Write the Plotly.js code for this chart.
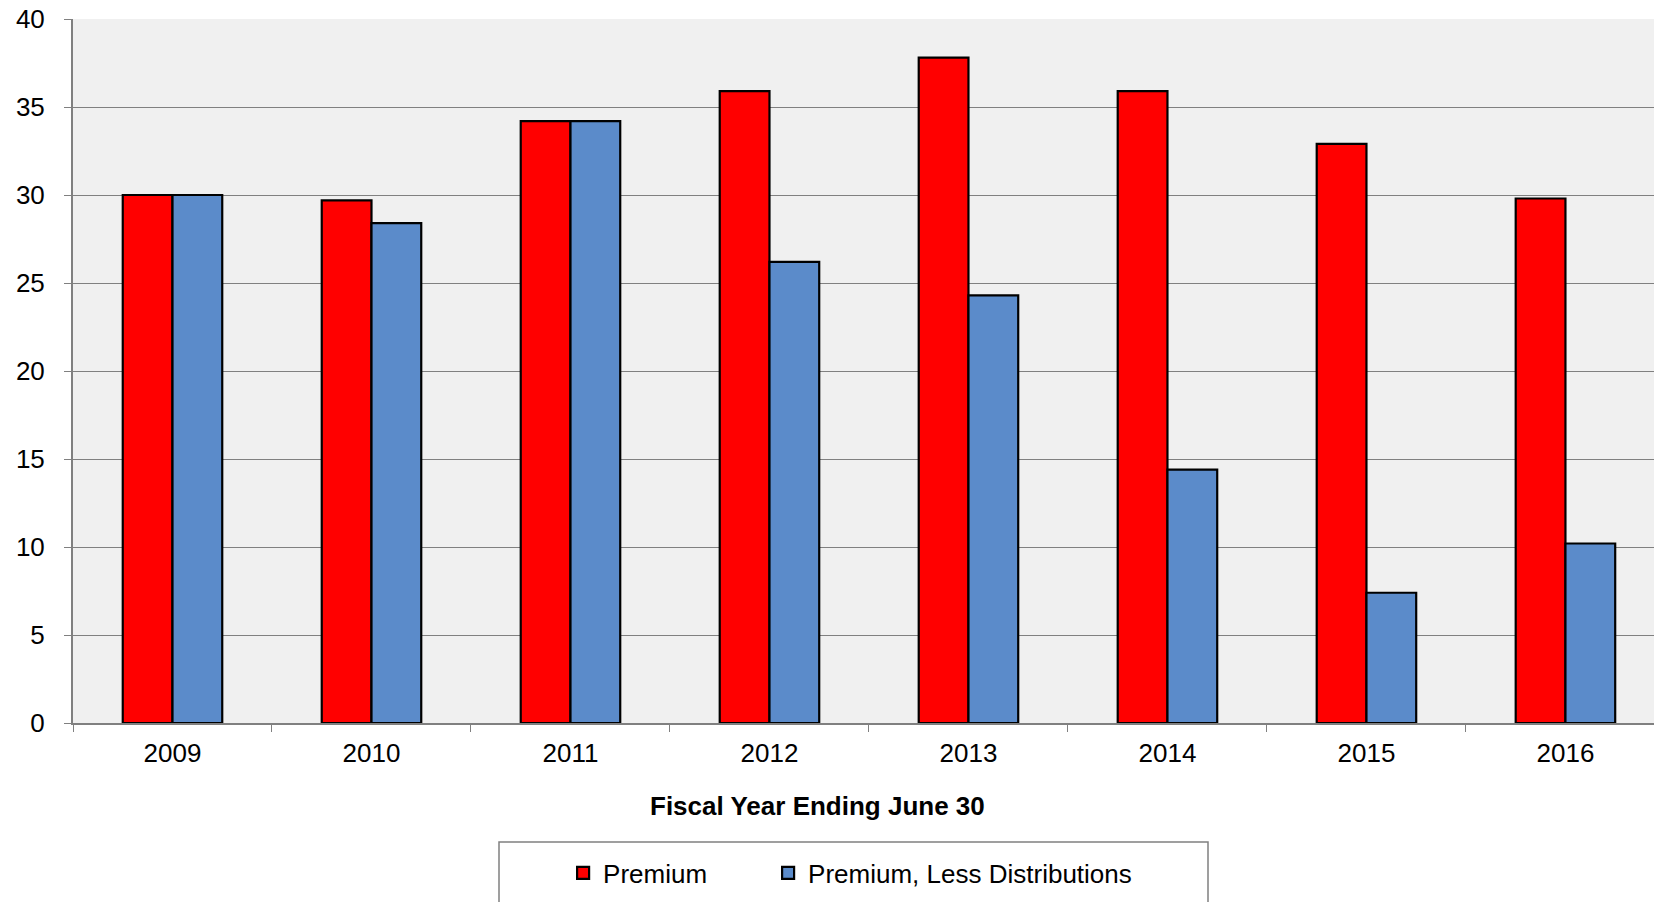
<!DOCTYPE html>
<html>
<head>
<meta charset="utf-8">
<script src="https://cdn.plot.ly/plotly-3.0.1.min.js"></script>
<style>html,body{margin:0;padding:0;background:#fff;overflow:hidden}#chart{width:1654px;height:902px}</style>
</head>
<body>
<div id="chart"></div>
<script>
const years = ["2009","2010","2011","2012","2013","2014","2015","2016"];
const premium = [30.0, 29.7, 34.2, 35.9, 37.8, 35.9, 32.9, 29.8];
const premiumLessDist = [30.0, 28.4, 34.2, 26.2, 24.3, 14.4, 7.4, 10.2];
const yTicks = [0,5,10,15,20,25,30,35,40];
const seriesNames = ["Premium", "Premium, Less Distributions"];
const xTitle = "Fiscal Year Ending June 30";

const font = "Liberation Sans, Arial, sans-serif";

const traces = [
  {type:"bar", name:seriesNames[0], x:years, y:premium, legendwidth:160,
   marker:{color:"#FF0000", line:{color:"#000000", width:2.2}}},
  {type:"bar", name:seriesNames[1], x:years, y:premiumLessDist,
   marker:{color:"#5B8BCA", line:{color:"#000000", width:2.2}}}
];

const layout = {
  width:1654, height:902,
  margin:{l:73, r:0, t:19, b:179, pad:0},
  paper_bgcolor:"#FFFFFF",
  plot_bgcolor:"#F0F0F0",
  barmode:"group",
  bargap:0.5,
  bargroupgap:0,
  font:{family:font, color:"#000000", size:26},
  xaxis:{
    type:"category",
    range:[-0.5, 7.445],
    tickson:"boundaries",
    ticks:"outside", ticklen:7, tickcolor:"#808080", tickwidth:1,
    ticklabelstandoff:6,
    showline:true, linecolor:"#808080", linewidth:2,
    showgrid:false,
    tickfont:{family:font, size:26, color:"#000"},
    fixedrange:true
  },
  yaxis:{
    range:[0,40],
    tickvals:yTicks,
    ticks:"outside", ticklen:7, tickcolor:"#808080", tickwidth:1,
    ticklabelstandoff:14,
    showline:true, linecolor:"#808080", linewidth:2,
    showgrid:true, gridcolor:"#808080", gridwidth:1,
    zeroline:false,
    tickfont:{family:font, size:26, color:"#000"},
    fixedrange:true
  },
  showlegend:true,
  legend:{
    orientation:"h",
    x:0.310, y:-0.213, xanchor:"left", yanchor:"middle",
    bgcolor:"rgba(0,0,0,0)", borderwidth:0,
    font:{family:font, size:26, color:"#000"},
    traceorder:"normal"
  },
  annotations:[
    {text:"<b>"+xTitle+"</b>", xref:"paper", yref:"paper", x:0.4712, y:-0.1179,
     xanchor:"center", yanchor:"middle", showarrow:false,
     font:{family:font, size:26, color:"#000"}}
  ],
  shapes:[
    {type:"rect", xref:"paper", yref:"paper",
     x0:(499-73)/1581, x1:(1208-73)/1581, y0:(723-842)/704, y1:(723-960)/704,
     line:{color:"#808080", width:1.5}, fillcolor:"rgba(0,0,0,0)", layer:"below"}
  ]
};

Plotly.newPlot("chart", traces, layout, {displayModeBar:false, staticPlot:true});
</script>
</body>
</html>
